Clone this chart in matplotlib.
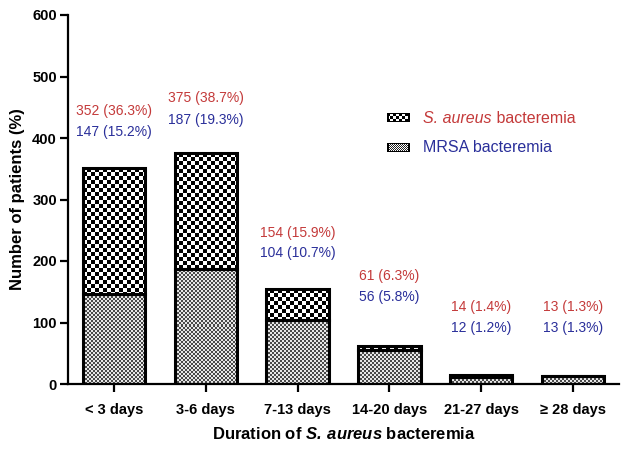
import numpy as np
import matplotlib
matplotlib.use('Agg')
import matplotlib.pyplot as plt
from matplotlib.colors import to_rgb

plt.rcParams['font.family'] = ['Liberation Sans', 'DejaVu Sans']
plt.rcParams['mathtext.fontset'] = 'custom'
plt.rcParams['mathtext.rm'] = 'Liberation Sans'
plt.rcParams['mathtext.it'] = 'Liberation Sans:italic'
plt.rcParams['mathtext.bf'] = 'Liberation Sans:bold'
plt.rcParams['mathtext.bfit'] = 'Liberation Sans:italic:bold'

# data
categories = ['< 3 days', '3-6 days', '7-13 days', '14-20 days', '21-27 days', '\u2265 28 days']
sa_total = [352, 375, 154, 61, 14, 13]
sa_pct = [36.3, 38.7, 15.9, 6.3, 1.4, 1.3]
mrsa = [147, 187, 104, 56, 12, 13]
mrsa_pct = [15.2, 19.3, 10.7, 5.8, 1.2, 1.3]

# label heights (layout)
red_label_y = [444, 465, 245, 176, 125, 125]
blue_label_y = [410, 429, 213, 141, 91, 91]

RED = '#c43a3a'
BLUE = '#2a2f9a'


def checker_fill(ax, patch, cell, c_on, c_off):
    # fill a bar patch with a pixel checkerboard
    x0, y0 = patch.get_x(), patch.get_y()
    x1, y1 = x0 + patch.get_width(), y0 + patch.get_height()
    if y1 - y0 <= 0:
        return
    p0 = np.round(ax.transData.transform((x0, y0)))
    p1 = np.round(ax.transData.transform((x1, y1)))
    w = max(int(abs(p1[0] - p0[0])), 1)
    h = max(int(abs(p1[1] - p0[1])), 1)
    # snap extent to whole pixels so the pattern is not resampled
    inv = ax.transData.inverted()
    ex0, ey0 = inv.transform(p0)
    ex1, ey1 = inv.transform(p1)
    yy, xx = np.mgrid[0:h, 0:w]
    pat = ((xx // cell + yy // cell) % 2).astype(bool)
    img = np.where(pat[..., None], np.array(to_rgb(c_on)), np.array(to_rgb(c_off)))
    im = ax.imshow(img, extent=(ex0, ex1, ey0, ey1), interpolation='none',
                   aspect='auto', zorder=1)
    im.set_clip_path(patch)


def legend_swatch(ax, x0, y0, w, h, cell, c_on, c_off):
    pw, ph = 23, 9
    yy, xx = np.mgrid[0:ph, 0:pw]
    pat = ((xx // cell + yy // cell) % 2).astype(bool)
    img = np.where(pat[..., None], np.array(to_rgb(c_on)), np.array(to_rgb(c_off)))
    img[0, :] = 0
    img[-1, :] = 0
    img[:, :2] = 0
    img[:, -2:] = 0
    ax.imshow(img, extent=(x0, x0 + w, y0, y0 + h), transform=ax.transAxes,
              interpolation='none', aspect='auto', zorder=3, clip_on=False)


fig = plt.figure(figsize=(6.25, 4.49), dpi=100)
ax = fig.add_axes([68 / 625, 1 - 384 / 449, 551 / 625, 369 / 449])
ax.set_xlim(-0.5, 5.5)
ax.set_ylim(0, 600)

x = np.arange(len(categories))
top_part = [t - m for t, m in zip(sa_total, mrsa)]
width = 0.68

bars_low = ax.bar(x, mrsa, width, facecolor='none', edgecolor='black',
                  linewidth=2.2, zorder=2)
bars_top = ax.bar(x, top_part, width, bottom=mrsa, facecolor='none',
                  edgecolor='black', linewidth=2.2, zorder=2)

for p in bars_low:
    checker_fill(ax, p, 2, '#4a4a4a', '#e8e8e8')
for p in bars_top:
    checker_fill(ax, p, 4, '#000000', '#ffffff')

for i in range(len(categories)):
    ax.text(x[i], red_label_y[i], '{} ({}%)'.format(sa_total[i], sa_pct[i]),
            color=RED, fontsize=10, ha='center', va='center')
    ax.text(x[i], blue_label_y[i], '{} ({}%)'.format(mrsa[i], mrsa_pct[i]),
            color=BLUE, fontsize=10, ha='center', va='center')

# legend, drawn by hand
legend_swatch(ax, (387 - 68) / 551, (384 - 122) / 369, 23 / 551, 9 / 369, 3, '#ffffff', '#000000')
legend_swatch(ax, (387 - 68) / 551, (384 - 152) / 369, 23 / 551, 9 / 369, 1, '#ffffff', '#222222')
t1 = ax.text((423 - 68) / 551, (384 - 126) / 369, 'S. aureus', style='italic',
             transform=ax.transAxes, color=RED, fontsize=11.5, va='bottom', ha='left')
ax.annotate(' bacteremia', xy=(1, 0), xycoords=t1, color=RED, fontsize=11.5,
            va='bottom', ha='left')
ax.text((423 - 68) / 551, (384 - 147) / 369, 'MRSA bacteremia',
        transform=ax.transAxes, color=BLUE, fontsize=11.5, va='center', ha='left')

ax.set_xlim(-0.5, 5.5)
ax.set_ylim(0, 600)
ax.set_xticks(x)
ax.set_xticklabels(categories, fontweight='bold', fontsize=10.5)
ax.set_yticks(np.arange(0, 601, 100))
for lab in ax.get_yticklabels():
    lab.set_fontweight('bold')
    lab.set_fontsize(10.5)
ax.tick_params(axis='both', direction='out', length=6, width=1.6, pad=2)
ax.tick_params(axis='x', pad=8)

for s in ['top', 'right']:
    ax.spines[s].set_visible(False)
for s in ['left', 'bottom']:
    ax.spines[s].set_linewidth(1.6)

ax.set_ylabel('Number of patients (%)', fontweight='bold', fontsize=12, labelpad=5)
ax.set_xlabel(r'Duration of $\mathbfit{S.\:aureus}$ bacteremia', fontweight='bold',
              fontsize=12, labelpad=6)

fig.savefig('out.png', dpi=100)
